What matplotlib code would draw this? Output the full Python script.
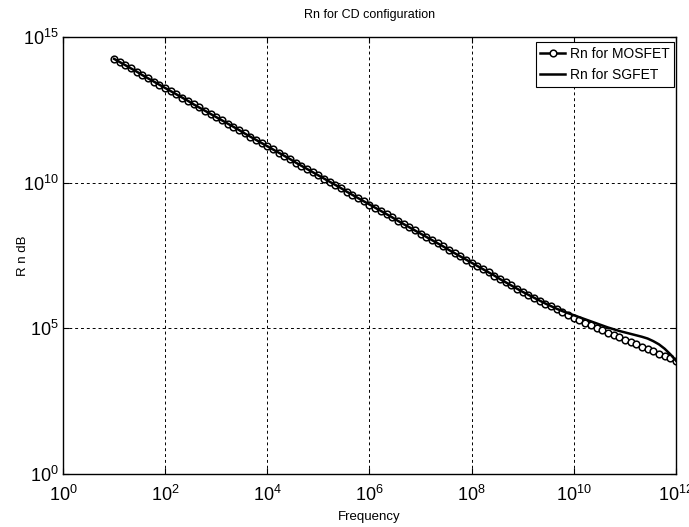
import numpy as np
import matplotlib
matplotlib.use("Agg")
import matplotlib.pyplot as plt
from matplotlib.ticker import FixedLocator, NullLocator

plt.rcParams["font.family"] = ["Liberation Sans Narrow", "Liberation Sans", "DejaVu Sans"]
plt.rcParams["mathtext.fontset"] = "custom"
plt.rcParams["mathtext.rm"] = "Liberation Sans"
plt.rcParams["mathtext.it"] = "Liberation Sans:italic"

# frequency grid (logspace from 10^1 to 10^12, 100 points)
freq = np.logspace(1, 12, 100)

# log10 of Rn
rn_mosfet_exp = [
    14.25, 14.14, 14.03, 13.92, 13.81, 13.69, 13.58, 13.47, 13.36, 13.25,
    13.14, 13.03, 12.92, 12.81, 12.69, 12.58, 12.47, 12.36, 12.25,
    12.14, 12.03, 11.92, 11.81, 11.69, 11.58, 11.47, 11.36, 11.25,
    11.14, 11.03, 10.92, 10.81, 10.69, 10.58, 10.47, 10.36, 10.25,
    10.14, 10.03, 9.92, 9.81, 9.69, 9.58, 9.47, 9.36, 9.25,
    9.14, 9.03, 8.92, 8.81, 8.69, 8.58, 8.47, 8.36, 8.25,
    8.14, 8.03, 7.92, 7.81, 7.69, 7.58, 7.47, 7.36, 7.25,
    7.14, 7.03, 6.92, 6.81, 6.69, 6.58, 6.47, 6.36, 6.25,
    6.15, 6.05, 5.95, 5.85, 5.75, 5.65, 5.56, 5.46, 5.37,
    5.28, 5.19, 5.10, 5.02, 4.93, 4.85, 4.77, 4.69, 4.61,
    4.53, 4.45, 4.37, 4.29, 4.21, 4.13, 4.05, 3.97, 3.89,
]
rn_sgfet_exp = [
    14.25, 14.14, 14.03, 13.92, 13.81, 13.69, 13.58, 13.47, 13.36, 13.25,
    13.14, 13.03, 12.92, 12.81, 12.69, 12.58, 12.47, 12.36, 12.25,
    12.14, 12.03, 11.92, 11.81, 11.69, 11.58, 11.47, 11.36, 11.25,
    11.14, 11.03, 10.92, 10.81, 10.69, 10.58, 10.47, 10.36, 10.25,
    10.14, 10.03, 9.92, 9.81, 9.69, 9.58, 9.47, 9.36, 9.25,
    9.14, 9.03, 8.92, 8.81, 8.69, 8.58, 8.47, 8.36, 8.25,
    8.14, 8.03, 7.92, 7.81, 7.69, 7.58, 7.47, 7.36, 7.25,
    7.14, 7.03, 6.92, 6.81, 6.69, 6.58, 6.47, 6.36, 6.25,
    6.15, 6.05, 5.95, 5.85, 5.76, 5.67, 5.59, 5.52, 5.45,
    5.38, 5.31, 5.24, 5.17, 5.10, 5.03, 4.97, 4.91, 4.86,
    4.81, 4.76, 4.71, 4.65, 4.56, 4.45, 4.30, 4.11, 3.89,
]

x_tick_exp = [0, 2, 4, 6, 8, 10, 12]
y_tick_exp = [0, 5, 10, 15]

rn_mosfet = 10.0 ** np.array(rn_mosfet_exp)
rn_sgfet = 10.0 ** np.array(rn_sgfet_exp)

fig = plt.figure(figsize=(6.89, 5.27), dpi=100)
ax = fig.add_axes([0.0914, 0.1006, 0.8897, 0.8292])

ax.plot(freq, rn_mosfet, color="black", lw=1.8, marker="o", ms=4.8,
        mfc="white", mec="black", mew=1.1, label="Rn for MOSFET")
ax.plot(freq, rn_sgfet, color="black", lw=1.8, label="Rn for SGFET")

ax.set_xscale("log")
ax.set_yscale("log")
ax.set_xlim(1e0, 1e12)
ax.set_ylim(1e0, 1e15)

ax.xaxis.set_major_locator(FixedLocator([10.0 ** e for e in x_tick_exp]))
ax.yaxis.set_major_locator(FixedLocator([10.0 ** e for e in y_tick_exp]))
ax.xaxis.set_minor_locator(NullLocator())
ax.yaxis.set_minor_locator(NullLocator())
ax.set_xticklabels([r"$\mathregular{10^{%d}}$" % e for e in x_tick_exp])
ax.set_yticklabels([r"$\mathregular{10^{%d}}$" % e for e in y_tick_exp])
ax.tick_params(axis="both", which="major", direction="in", length=4,
               top=True, right=True, labelsize=13, width=0.8)
ax.tick_params(axis="x", pad=8)
ax.tick_params(axis="y", pad=3)

ax.grid(True, which="major", color="black", linestyle=(0, (3, 3)), lw=0.7)
for s in ax.spines.values():
    s.set_color("black")
    s.set_linewidth(1.0)

ax.set_title("Rn for CD configuration", fontsize=9, pad=14)
ax.set_xlabel("Frequency", fontsize=9.5, labelpad=4)
ax.set_ylabel("R n dB", fontsize=9.5, labelpad=-4)

leg = ax.legend(loc="upper right", bbox_to_anchor=(0.997, 0.988), fontsize=10,
                frameon=True, fancybox=False, framealpha=1, edgecolor="black",
                borderpad=0.35, handlelength=1.8, handletextpad=0.3,
                labelspacing=0.5, borderaxespad=0)
leg.get_frame().set_linewidth(0.8)

fig.savefig("out.png", dpi=100)
